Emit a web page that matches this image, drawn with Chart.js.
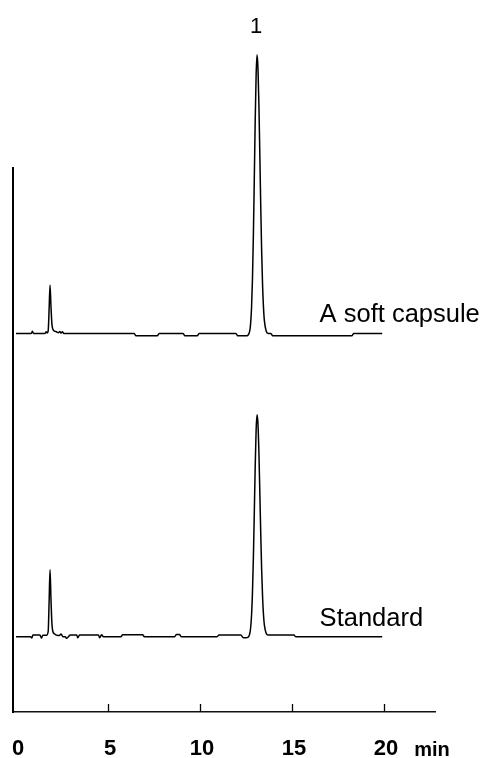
<!DOCTYPE html>
<html lang="en"><head>
  <meta charset="UTF-8">
  <title>Chromatogram</title>
  <script src="https://cdn.jsdelivr.net/npm/chart.js"></script>
  <style>
    body { margin: 0; background: #fff; }
    #wrap { position: relative; width: 486px; height: 758px; }
  </style>
</head><body>
<div id="wrap"><canvas id="chart"></canvas></div>
<script>
  // trace names and retention-time axis
  const traceNames = ['A soft capsule', 'Standard'];
  const xTickValues = [0, 5, 10, 15, 20];
  const unitLabel = 'min';
  const peakNames = ['1'];
  const peakTimes = [13.1];

  // [minute, detector response]
  const capsuleTrace = [
    [0, 0], [0.8, 0], [0.86, 0.15], [0.89, 0.4], [0.93, 0.1], [0.98, 0],
    [1.58, 0], [1.64, 0.3], [1.7, 0.05], [1.75, 0.5], [1.8, 4.5], [1.85, 8.9], [1.9, 5.0],
    [1.95, 1.8], [2.0, 0.8], [2.1, 0.4], [2.2, 0.3], [2.3, 0.1], [2.38, 0.35], [2.45, 0.05],
    [2.52, 0.3], [2.6, 0],
    [6.42, 0], [6.52, -0.45], [7.68, -0.45], [7.78, 0],
    [9.08, 0], [9.18, -0.45], [9.85, -0.45], [9.95, 0],
    [11.95, 0], [12.05, -0.45], [12.5, -0.45], [12.6, -0.36], [12.7, 0.42], [12.75, 1.8],
    [12.8, 4.7], [12.85, 9.95], [12.9, 18.0], [12.95, 28.4], [13.0, 39.3], [13.05, 47.6],
    [13.1, 51.2], [13.15, 48.7], [13.2, 42.1], [13.25, 33.0], [13.3, 23.4], [13.35, 15.1],
    [13.4, 8.8], [13.45, 4.7], [13.5, 2.25], [13.6, 0.39], [13.7, 0], [13.85, 0],
    [13.95, -0.45], [18.25, -0.45], [18.35, 0], [19.9, 0]
  ];
  const standardTrace = [
    [0, 0], [0.8, 0], [0.86, -0.25], [0.92, 0.3], [1.3, 0.3], [1.38, -0.25], [1.46, 0.25],
    [1.66, 0.25], [1.75, 1.0], [1.8, 6.5], [1.85, 12.3], [1.9, 7.0], [1.95, 2.5], [2.0, 1.0],
    [2.1, 0.5], [2.2, 0.3], [2.35, 0.2], [2.45, 0.5], [2.55, 0], [2.68, 0], [2.75, -0.3],
    [2.85, 0], [2.95, 0.3], [3.3, 0.3], [3.36, -0.2], [3.45, 0.3], [4.48, 0.3], [4.55, -0.2],
    [4.65, 0.35], [4.75, 0], [5.7, 0], [5.8, 0.35], [6.88, 0.35], [6.98, 0],
    [8.62, 0], [8.72, 0.4], [8.88, 0.4], [8.98, 0],
    [10.93, 0], [11.03, 0.3], [12.22, 0.3], [12.35, -0.2], [12.5, -0.2], [12.6, -0.13],
    [12.7, 0.49], [12.75, 1.6], [12.8, 3.9], [12.85, 8.1], [12.9, 14.5], [12.95, 22.8],
    [13.0, 31.4], [13.05, 38.1], [13.1, 40.8], [13.15, 39.1], [13.2, 33.9], [13.25, 26.6],
    [13.3, 19.0], [13.35, 12.3], [13.4, 7.3], [13.45, 4.0], [13.5, 2.1], [13.6, 0.6],
    [13.7, 0.3], [15.1, 0.3], [15.2, 0], [19.9, 0]
  ];
  // vertical offset of each trace in the stacked plot
  const traceOffsets = [69.6, 13.84];

  const traces = [capsuleTrace, standardTrace];
  const unitPos = 22.5;

  // peak number, trace names and inward tick marks
  const annotate = {
    id: 'annotate',
    afterDatasetsDraw(chart) {
      const c = chart.ctx, xs = chart.scales.x, ys = chart.scales.y;
      c.save();
      c.fillStyle = '#000';
      c.textBaseline = 'alphabetic';

      c.font = '22px "Liberation Sans", Arial, sans-serif';
      c.textAlign = 'center';
      peakNames.forEach((name, i) => {
        const top = Math.max(...capsuleTrace.map(p => p[1])) + traceOffsets[0];
        c.fillText(name, xs.getPixelForValue(peakTimes[i]) - 1, ys.getPixelForValue(top) - 22);
      });

      c.font = '25.5px "Liberation Sans", Arial, sans-serif';
      c.textAlign = 'left';
      traceNames.forEach((name, i) => {
        c.fillText(name, xs.getPixelForValue(16.5), ys.getPixelForValue(traceOffsets[i]) - 11);
      });

      c.strokeStyle = '#000';
      c.lineWidth = 1.3;
      const b = chart.chartArea.bottom;
      xTickValues.filter(v => v > 0).forEach(v => {
        const x = Math.round(xs.getPixelForValue(v)) + 0.5;
        c.beginPath();
        c.moveTo(x, b);
        c.lineTo(x, b - 8);
        c.stroke();
      });
      c.restore();
    }
  };

  new Chart(document.getElementById('chart'), {
    type: 'line',
    data: {
      datasets: traces.map((t, i) => ({
        label: traceNames[i],
        data: t.map(p => ({ x: p[0], y: p[1] + traceOffsets[i] })),
        borderColor: '#000',
        borderWidth: 1.5,
        pointRadius: 0,
        cubicInterpolationMode: 'monotone',
        clip: false
      }))
    },
    options: {
      responsive: true,
      maintainAspectRatio: false,
      animation: false,
      layout: { padding: { top: 168, left: 13, right: 51, bottom: 0 } },
      plugins: { legend: { display: false }, tooltip: { enabled: false } },
      scales: {
        x: {
          type: 'linear',
          min: -0.163,
          max: 22.77,
          grid: { display: false },
          border: { display: true, color: '#111', width: 1.5 },
          afterBuildTicks(scale) {
            scale.ticks = xTickValues.concat([unitPos]).map(v => ({ value: v }));
          },
          afterFit(scale) {
            scale.height = 46;
            scale.paddingLeft = 0;
            scale.paddingRight = 0;
          },
          ticks: {
            autoSkip: false,
            maxRotation: 0,
            padding: 15.5,
            labelOffset: 2,
            color: '#000',
            callback: v => (v === unitPos ? unitLabel : String(v)),
            font: ctx => (ctx.tick && ctx.tick.value === unitPos
              ? { family: '"Liberation Sans", Arial, sans-serif', size: 20, weight: 'bold', lineHeight: 1.45 }
              : { family: '"Liberation Sans", Arial, sans-serif', size: 22, weight: 'bold', lineHeight: 1.2 })
          }
        },
        y: {
          min: 0,
          max: 100,
          grid: { display: false },
          border: { display: true, color: '#000', width: 2 },
          ticks: { display: false },
          afterFit(scale) { scale.width = 0; }
        }
      }
    },
    plugins: [annotate]
  });
</script>
</body></html>
